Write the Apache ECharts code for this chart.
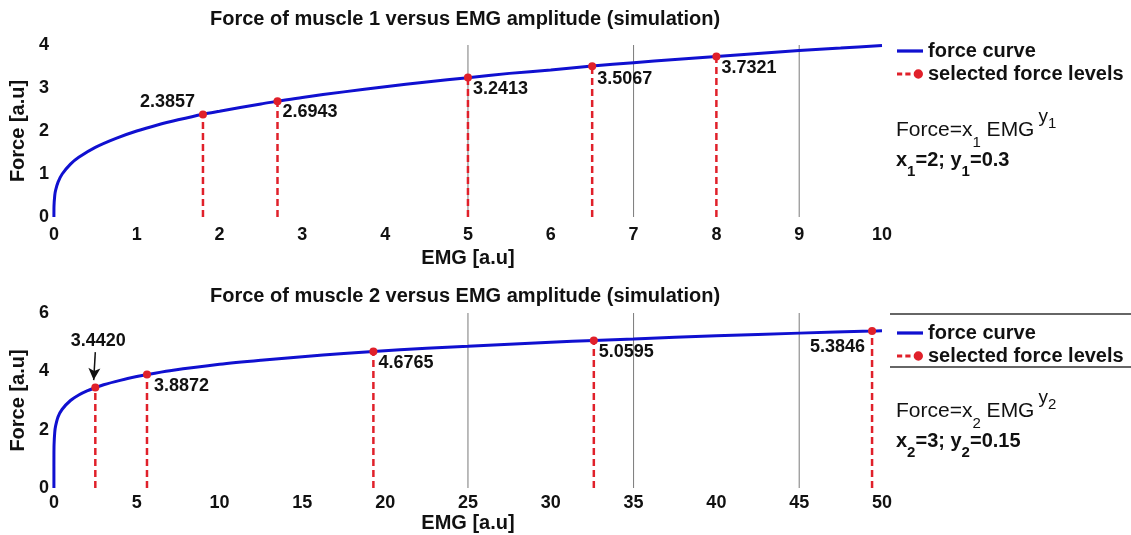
<!DOCTYPE html>
<html>
<head>
<meta charset="utf-8">
<script src="https://cdn.jsdelivr.net/npm/echarts@6/dist/echarts.min.js"></script>
<style>html,body{margin:0;padding:0;background:#fff}#c{width:1131px;height:535px}</style>
</head>
<body>
<div id="c"></div>
<script>
// ---------- data ----------
var titles = ['Force of muscle 1 versus EMG amplitude (simulation)', 'Force of muscle 2 versus EMG amplitude (simulation)'];
var xName = 'EMG [a.u]';
var yName = 'Force [a.u]';

// muscle 1 force curve
var curve1X = [0, 0.001, 0.01, 0.02, 0.05, 0.1, 0.2, 0.3, 0.5, 0.75, 1, 1.25, 1.5, 1.8, 2, 2.5, 2.7, 3, 3.5, 4, 4.5, 5, 5.5, 6, 6.5, 7, 7.5, 8, 8.5, 9, 9.5, 10];
var curve1Y = [0, 0.25, 0.50, 0.62, 0.81, 1.00, 1.23, 1.39, 1.62, 1.83, 2.00, 2.14, 2.26, 2.39, 2.46, 2.63, 2.69, 2.78, 2.91, 3.03, 3.14, 3.24, 3.34, 3.42, 3.51, 3.59, 3.66, 3.73, 3.80, 3.87, 3.93, 3.99];
// muscle 1 selected force levels
var sel1X = [1.8, 2.7, 5, 6.5, 8];
var sel1Y = [2.3857, 2.6943, 3.2413, 3.5067, 3.7321];
// muscle 1 reference lines
var ref1X = [5, 7, 9];

// muscle 2 force curve
var curve2X = [0, 0.0001, 0.001, 0.01, 0.05, 0.1, 0.25, 0.5, 1, 1.5, 2, 2.5, 3, 4, 5, 5.62, 7, 10, 12.5, 15, 17.5, 19.29, 22.5, 25, 30, 32.6, 35, 40, 45, 49.4, 50];
var curve2Y = [0, 0.75, 1.06, 1.50, 1.91, 2.12, 2.44, 2.70, 3.00, 3.19, 3.33, 3.44, 3.54, 3.69, 3.82, 3.89, 4.02, 4.24, 4.38, 4.50, 4.61, 4.68, 4.79, 4.86, 5.00, 5.06, 5.11, 5.22, 5.31, 5.38, 5.39];
// muscle 2 selected force levels
var sel2X = [2.5, 5.62, 19.29, 32.6, 49.4];
var sel2Y = [3.4420, 3.8872, 4.6765, 5.0595, 5.3846];
// muscle 2 reference lines
var ref2X = [25, 35, 45];

var axis1 = {xMin: 0, xMax: 10, xInt: 1, yMin: 0, yMax: 4, yInt: 1};
var axis2 = {xMin: 0, xMax: 50, xInt: 5, yMin: 0, yMax: 6, yInt: 2};

var legendNames = ['force curve', 'selected force levels'];
var formula1 = ['Force=x', '1', ' EMG', 'y', '1', 'x', '1', '=2; y', '1', '=0.3'];
var formula2 = ['Force=x', '2', ' EMG', 'y', '2', 'x', '2', '=3; y', '2', '=0.15'];

// ---------- styling / layout ----------
var FONT = '"Liberation Sans", Arial, sans-serif';
var BLUE = '#1010d0';
var RED = '#e0202a';
var INK = '#111';

// label placements (style only)
var place1 = [
  {position: 'left', distance: 4, offset: [0, -12]},
  {position: 'right', distance: 1, offset: [0, 11]},
  {position: 'right', distance: 1, offset: [0, 11]},
  {position: 'right', distance: 1, offset: [0, 13]},
  {position: 'right', distance: 1, offset: [0, 12]}
];
var place2 = [
  {position: 'top', distance: 34, offset: [3, 0]},
  {position: 'right', distance: 3, offset: [0, 11]},
  {position: 'right', distance: 1, offset: [0, 11]},
  {position: 'right', distance: 1, offset: [0, 12]},
  {position: 'left', distance: 3, offset: [0, 16]}
];

function zip(a, b) { return a.map(function (v, i) { return [v, b[i]]; }); }

function selData(xs, ys, places) {
  var d = [];
  xs.forEach(function (x, i) {
    d.push({value: [x, 0], symbol: 'none', label: {show: false}});
    var p = places[i];
    d.push({value: [x, ys[i]], label: {show: true, position: p.position, distance: p.distance, offset: p.offset}});
    d.push([x, '-']);
  });
  return d;
}

function refData(xs, yMax) {
  var d = [];
  xs.forEach(function (x) { d.push([x, 0]); d.push([x, yMax]); d.push([x, '-']); });
  return d;
}

function xAxis(idx, a, labelMargin, nameGap) {
  return {
    type: 'value', gridIndex: idx, min: a.xMin, max: a.xMax, interval: a.xInt,
    name: xName, nameLocation: 'middle', nameGap: nameGap,
    nameTextStyle: {fontFamily: FONT, fontWeight: 'bold', fontSize: 20, color: INK},
    axisLine: {show: false}, axisTick: {show: false}, splitLine: {show: false},
    axisLabel: {fontFamily: FONT, fontWeight: 'bold', fontSize: 18, color: INK, margin: labelMargin}
  };
}
function yAxis(idx, a) {
  return {
    type: 'value', gridIndex: idx, min: a.yMin, max: a.yMax, interval: a.yInt,
    name: yName, nameLocation: 'middle', nameGap: 18,
    nameTextStyle: {fontFamily: FONT, fontWeight: 'bold', fontSize: 20, color: INK},
    axisLine: {show: false}, axisTick: {show: false}, splitLine: {show: false},
    axisLabel: {fontFamily: FONT, fontWeight: 'bold', fontSize: 18, color: INK, margin: 5}
  };
}

var labelStyle = {fontFamily: FONT, fontWeight: 'bold', fontSize: 18, color: INK,
  formatter: function (p) { return p.value[1].toFixed(4); }};

function seriesFor(idx, cx, cy, sx, sy, places, refs, yMax, extraMark) {
  var s = [
    {
      name: 'ref', type: 'line', xAxisIndex: idx, yAxisIndex: idx, data: refData(refs, yMax),
      showSymbol: false, symbol: 'none', silent: true, z: 1,
      lineStyle: {color: '#7a7a7a', width: 1}
    },
    {
      name: legendNames[0], type: 'line', xAxisIndex: idx, yAxisIndex: idx, data: zip(cx, cy),
      symbol: 'none', smooth: 0.3, z: 3,
      lineStyle: {color: BLUE, width: 3}, itemStyle: {color: BLUE}
    },
    {
      name: legendNames[1], type: 'line', xAxisIndex: idx, yAxisIndex: idx, data: selData(sx, sy, places),
      symbol: 'circle', symbolSize: 8, showAllSymbol: true, z: 4, connectNulls: false,
      lineStyle: {color: RED, width: 2.5, type: [7, 4]}, itemStyle: {color: RED},
      label: labelStyle
    }
  ];
  if (extraMark) s[2].markLine = extraMark;
  return s;
}

var arrowMark = {
  silent: true, symbol: ['none', 'arrow'], symbolSize: [9, 12],
  label: {show: false},
  lineStyle: {color: INK, width: 1.5, type: 'solid'},
  data: [[{coord: [2.5, 4.66]}, {coord: [2.4, 3.70]}]]
};

var ICON_LINE = 'path://M0,0H24V3H0Z';
var ICON_SEL = 'path://M0,3H5V6H0Z M8,3H13V6H8Z M16,4.5A4.5,4.5,0,1,0,25,4.5A4.5,4.5,0,1,0,16,4.5Z';

function legendFor(top, gap) {
  return {
    left: 892, top: top, orient: 'vertical', itemGap: gap, itemWidth: 26, itemHeight: 14,
    symbolKeepAspect: true, selectedMode: false,
    data: [{name: legendNames[0], icon: ICON_LINE}, {name: legendNames[1], icon: ICON_SEL}],
    textStyle: {fontFamily: FONT, fontWeight: 'bold', fontSize: 20, color: INK, padding: [0, 0, 0, 0]}
  };
}

function formulaGraphic(f, left, top) {
  var base = {fontFamily: FONT, fontWeight: 'bold', fill: INK};
  function st(o) { var r = {}; for (var k in base) r[k] = base[k]; for (var k2 in o) r[k2] = o[k2]; return r; }
  return {
    type: 'text', left: left, top: top, z: 10,
    style: {
      text: '{n|' + f[0] + '}{s|' + f[1] + '}{n|' + f[2] + '}{p|' + f[3] + '}{ps|' + f[4] + '}\n' +
            '{b|' + f[5] + '}{bs|' + f[6] + '}{b|' + f[7] + '}{bs|' + f[8] + '}{b|' + f[9] + '}',
      rich: {
        n: st({fontSize: 21, fontWeight: 'normal', verticalAlign: 'bottom', lineHeight: 34}),
        s: st({fontSize: 15, fontWeight: 'normal', verticalAlign: 'bottom', padding: [0, 0, -9, 0], lineHeight: 34}),
        p: st({fontSize: 19, fontWeight: 'normal', verticalAlign: 'top', padding: [0, 0, 0, 4], lineHeight: 34}),
        ps: st({fontSize: 15, fontWeight: 'normal', verticalAlign: 'top', padding: [9, 0, 0, 0], lineHeight: 34}),
        b: st({fontSize: 20, verticalAlign: 'bottom', lineHeight: 29}),
        bs: st({fontSize: 15, verticalAlign: 'bottom', padding: [0, 0, -9, 0], lineHeight: 29})
      }
    }
  };
}

var chart = echarts.init(document.getElementById('c'), null, {renderer: 'canvas'});
chart.setOption({
  animation: false,
  backgroundColor: '#fff',
  title: [
    {text: titles[0], left: 460, top: 4, textAlign: 'center',
     textStyle: {fontFamily: FONT, fontWeight: 'bold', fontSize: 20, color: INK}},
    {text: titles[1], left: 460, top: 281, textAlign: 'center',
     textStyle: {fontFamily: FONT, fontWeight: 'bold', fontSize: 20, color: INK}}
  ],
  grid: [
    {left: 50, right: 249, top: 45, bottom: 318},
    {left: 50, right: 249, top: 313, bottom: 47}
  ],
  xAxis: [xAxis(0, axis1, 9, 31), xAxis(1, axis2, 6, 25)],
  yAxis: [yAxis(0, axis1), yAxis(1, axis2)],
  legend: [legendFor(36, 3), legendFor(318, 3)],
  series: [].concat(
    seriesFor(0, curve1X, curve1Y, sel1X, sel1Y, place1, ref1X, axis1.yMax, null),
    seriesFor(1, curve2X, curve2Y, sel2X, sel2Y, place2, ref2X, axis2.yMax, arrowMark)
  ),
  graphic: [
    formulaGraphic(formula1, 896, 107),
    formulaGraphic(formula2, 896, 388),
    {type: 'line', shape: {x1: 890, y1: 314, x2: 1131, y2: 314}, style: {stroke: '#333', lineWidth: 1.5}},
    {type: 'line', shape: {x1: 890, y1: 367, x2: 1131, y2: 367}, style: {stroke: '#333', lineWidth: 1.5}}
  ]
});
</script>
</body>
</html>
